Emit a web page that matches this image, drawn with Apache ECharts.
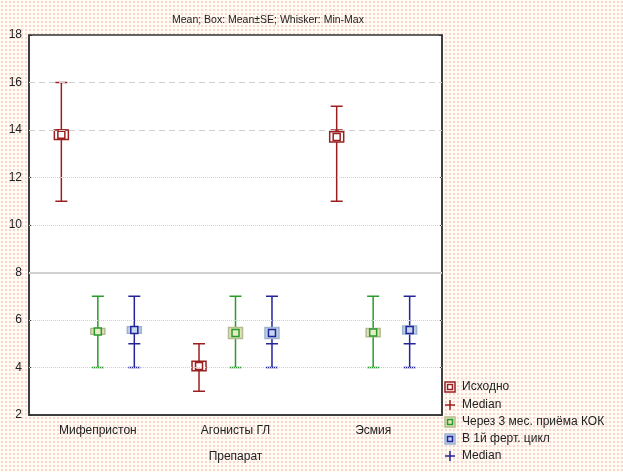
<!DOCTYPE html>
<html>
<head>
<meta charset="utf-8">
<script src="https://cdn.jsdelivr.net/npm/echarts/dist/echarts.min.js"></script>
<style>
  html, body { margin: 0; padding: 0; }
  body {
    background-color: #fffbee;
    background-image: radial-gradient(#f7d3da 0.9px, transparent 1px);
    background-size: 4px 4px;
  }
  #chart { width: 623px; height: 472px; }
</style>
</head>
<body>
<div id="chart"></div>
<script>
// categories and per-group statistics
const categories = ['Мифепристон', 'Агонисты ГЛ', 'Эсмия'];

const baseMean = [13.8, 4.06, 13.71];
const baseSE = [0.2, 0.2, 0.22];
const baseMin = [11, 3, 11];
const baseMax = [16, 5, 15];
const baseMedian = [14, 4, 14];

const kokMean = [5.52, 5.45, 5.47];
const kokSE = [0.12, 0.23, 0.17];
const kokMin = [4, 4, 4];
const kokMax = [7, 7, 7];

const cycleMean = [5.58, 5.45, 5.58];
const cycleSE = [0.14, 0.23, 0.17];
const cycleMin = [4, 4, 4];
const cycleMax = [7, 7, 7];
const cycleMedian = [5, 5, 5];

const yTicks = [2, 4, 6, 8, 10, 12, 14, 16, 18];

function rows(mean, se, min, max, median) {
  return categories.map((c, i) => [i, mean[i], se[i], min[i], max[i], median ? median[i] : NaN]);
}

function boxRenderer(offset, color, boxFill, boxBorder, innerFill) {
  return function (params, api) {
    const i = api.value(0);
    const band = api.size([1, 0])[0];
    const x = api.coord([i, 0])[0] + offset * band;
    const y = v => api.coord([i, v])[1];
    const mean = api.value(1), se = api.value(2);
    const lo = api.value(3), hi = api.value(4), med = api.value(5);
    const cap = 6, bw = 7, iw = 3.5;
    const line = (x1, y1, x2, y2) => ({
      type: 'line',
      shape: { x1, y1, x2, y2 },
      style: { stroke: color, lineWidth: 1.5 }
    });
    const kids = [
      line(x, y(hi), x, y(lo)),
      line(x - cap, y(hi), x + cap, y(hi)),
      line(x - cap, y(lo), x + cap, y(lo))
    ];
    if (!isNaN(med)) kids.push(line(x - cap, y(med), x + cap, y(med)));
    const top = y(mean + se), bot = y(mean - se);
    kids.push({
      type: 'rect',
      shape: { x: x - bw, y: top, width: bw * 2, height: bot - top },
      style: { fill: boxFill, stroke: boxBorder, lineWidth: 1.5 }
    });
    kids.push({
      type: 'rect',
      shape: { x: x - iw, y: y(mean) - iw, width: iw * 2, height: iw * 2 },
      style: { fill: innerFill, stroke: color, lineWidth: 1.5 }
    });
    return { type: 'group', children: kids };
  };
}

const RED = '#9c1f1f', GREEN = '#2a9a2a', BLUE = '#23239a';

function legendRow(y, kind, color, fill, border, label) {
  const kids = [];
  if (kind === 'box') {
    kids.push({ type: 'rect', shape: { x: 445, y: y - 5, width: 10, height: 10 },
      style: { fill: fill, stroke: border, lineWidth: 1.5 } });
    kids.push({ type: 'rect', shape: { x: 447.5, y: y - 2.5, width: 5, height: 5 },
      style: { fill: fill, stroke: color, lineWidth: 1.5 } });
  } else {
    kids.push({ type: 'line', shape: { x1: 445, y1: y, x2: 455, y2: y }, style: { stroke: color, lineWidth: 1.5 } });
    kids.push({ type: 'line', shape: { x1: 450, y1: y - 5, x2: 450, y2: y + 5 }, style: { stroke: color, lineWidth: 1.5 } });
  }
  kids.push({ type: 'text', x: 462, y: y, style: { text: label, fill: '#222',
    font: '12px Arial, "Liberation Sans", sans-serif', verticalAlign: 'middle' } });
  return { type: 'group', children: kids };
}

const chart = echarts.init(document.getElementById('chart'));
chart.setOption({
  backgroundColor: 'transparent',
  animation: false,
  title: {
    text: 'Mean; Box: Mean±SE; Whisker: Min-Max',
    left: 167, top: 10,
    textStyle: { fontSize: 10.5, fontWeight: 'normal', color: '#222', fontFamily: 'Arial' }
  },
  grid: {
    left: 29, right: 181, top: 35, bottom: 57,
    show: true, backgroundColor: '#fff', borderColor: '#333', borderWidth: 1.5
  },
  xAxis: {
    type: 'category',
    data: categories,
    name: 'Препарат',
    nameLocation: 'middle',
    nameGap: 36,
    nameTextStyle: { fontSize: 12, color: '#222', fontFamily: 'Arial' },
    axisLine: { lineStyle: { color: '#333', width: 1.5 } },
    axisTick: { alignWithLabel: true, inside: true, length: 3, lineStyle: { color: '#333' } },
    axisLabel: { fontSize: 12, color: '#222', fontFamily: 'Arial', margin: 10 },
    splitLine: { show: false }
  },
  yAxis: [{
    type: 'value',
    min: 2, max: 18, interval: 2,
    axisLine: { show: true, lineStyle: { color: '#333', width: 1.5 } },
    axisTick: { show: true, inside: true, length: 3, lineStyle: { color: '#333' } },
    axisLabel: { fontSize: 12, color: '#222', fontFamily: 'Arial', margin: 7 },
    splitLine: { show: false }
  }, {
    type: 'value', position: 'right',
    min: 2, max: 18, interval: 2,
    axisLine: { show: true, lineStyle: { color: '#333', width: 1.5 } },
    axisTick: { show: true, inside: true, length: 3, lineStyle: { color: '#333' } },
    axisLabel: { show: false },
    splitLine: { show: false }
  }],
  series: [{
    // grid lines: dashed at the top, solid at 8, dotted elsewhere
    type: 'line',
    data: [],
    z: 1,
    silent: true,
    markLine: {
      silent: true, symbol: 'none', label: { show: false },
      data: yTicks.slice(1, -1).map(v => ({
        yAxis: v,
        lineStyle: v === 8 ? { type: 'solid', color: '#d0d0d0', width: 2 }
          : v >= 14 ? { type: [6, 4], color: '#cfcfcf', width: 1 }
          : { type: [1, 1], color: '#cfcfcf', width: 1 }
      }))
    }
  }, {
    name: 'Исходно',
    type: 'custom',
    renderItem: boxRenderer(-0.265, RED, '#ffffff', RED, '#ffffff'),
    data: rows(baseMean, baseSE, baseMin, baseMax, baseMedian),
    z: 3
  }, {
    name: 'Через 3 мес. приёма КОК',
    type: 'custom',
    renderItem: boxRenderer(0, GREEN, '#dfe4b6', '#b3bc92', '#e6ecc6'),
    data: rows(kokMean, kokSE, kokMin, kokMax, null),
    z: 3
  }, {
    name: 'В 1й ферт. цикл',
    type: 'custom',
    renderItem: boxRenderer(0.265, BLUE, '#bcd0e8', '#9fb4d0', '#c7d8ee'),
    data: rows(cycleMean, cycleSE, cycleMin, cycleMax, cycleMedian),
    z: 3
  }],
  graphic: [
    legendRow(387, 'box', RED, '#ffffff', RED, 'Исходно'),
    legendRow(405, 'plus', RED, null, null, 'Median'),
    legendRow(422, 'box', GREEN, '#dfe4b6', '#b3bc92', 'Через 3 мес. приёма КОК'),
    legendRow(439, 'box', BLUE, '#bcd0e8', '#9fb4d0', 'В 1й ферт. цикл'),
    legendRow(456, 'plus', BLUE, null, null, 'Median')
  ]
});
</script>
</body>
</html>
